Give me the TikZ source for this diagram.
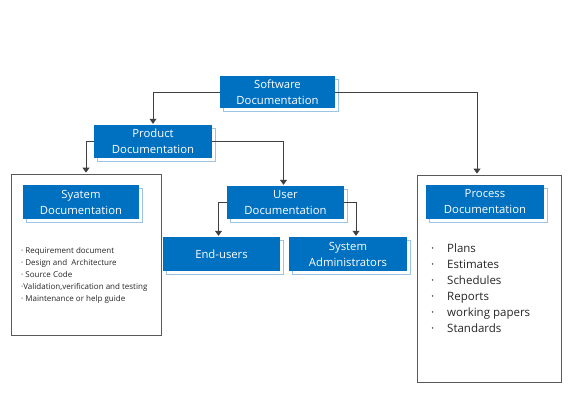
\documentclass[tikz,border=0pt]{standalone}
\usepackage{fontspec}
\setmainfont{Open Sans}
\usetikzlibrary{arrows.meta,shadows}
\definecolor{docblue}{HTML}{0070C0}
\definecolor{shadeblue}{HTML}{9DC3E6}
\definecolor{linegray}{HTML}{404040}
\definecolor{framegray}{HTML}{595959}

\begin{document}
\begin{tikzpicture}[x=1pt,y=-1pt,>={Triangle[length=5pt,width=7pt]},
  docbox/.style={fill=docblue,text=white,align=center,inner sep=0pt,
    font=\fontsize{11.3}{16}\selectfont,
    general shadow={fill=white,draw=shadeblue,shadow xshift=3pt,shadow yshift=-3pt}},
  framebox/.style={draw=framegray,thick,fill=white,inner sep=0pt},
  link/.style={->,draw=linegray,thick,shorten >=1pt}]
  \useasboundingbox (0,0) rectangle (570,420);
  % Rahmen
  \node[framebox,minimum width=150,minimum height=161] (sysframe) at (86,254.5) {};
  \node[framebox,minimum width=144,minimum height=207] (procframe) at (489,278.5) {};
  % Kaesten
  \node[docbox,minimum width=115,minimum height=32] (soft) at (277.5,92) {Software\\Documentation};
  \node[docbox,minimum width=118,minimum height=33] (prod) at (153,141.5) {Product\\Documentation};
  \node[docbox,minimum width=116,minimum height=34] (sys) at (81,202) {Syatem\\Documentation};
  \node[docbox,minimum width=117,minimum height=33] (user) at (285.5,202.5) {User\\Documentation};
  \node[docbox,minimum width=117,minimum height=34] (endu) at (221.5,254) {End-users};
  \node[docbox,minimum width=118,minimum height=34] (admin) at (348,254) {System\\Administrators};
  \node[docbox,minimum width=118,minimum height=34] (proc) at (485,202) {Process\\Documentation};
  % Listen
  \node[anchor=north west,align=left,inner sep=0pt,text=black!85,
    font=\fontsize{8}{12}\selectfont] (syslist) at (21,247)
    {· Requirement document\\· Design and\ \ Architecture\\· Source Code\\%
     ·Validation,verification and testing\\· Maintenance or help guide};
  \node[anchor=north west,align=left,inner sep=0pt,text=black!85,
    font=\fontsize{11.5}{16}\selectfont] (proclist) at (431,244)
    {\makebox[16pt][l]{·}Plans\\\makebox[16pt][l]{·}Estimates\\%
     \makebox[16pt][l]{·}Schedules\\\makebox[16pt][l]{·}Reports\\%
     \makebox[16pt][l]{·}working papers\\\makebox[16pt][l]{·}Standards};
  % Verbindungen
  \draw[link] (soft.west) -| (prod.north);
  \draw[link] (soft.east) -| ([xshift=-12]procframe.north);
  \draw[link] (prod.west) -| (sysframe.north);
  \draw[link] (prod.east) -| ([xshift=-2]user.north);
  \draw[link] (user.west) -| ([xshift=-3]endu.north);
  \draw[link] (user.east) -| ([xshift=8]admin.north);
\end{tikzpicture}
\end{document}
